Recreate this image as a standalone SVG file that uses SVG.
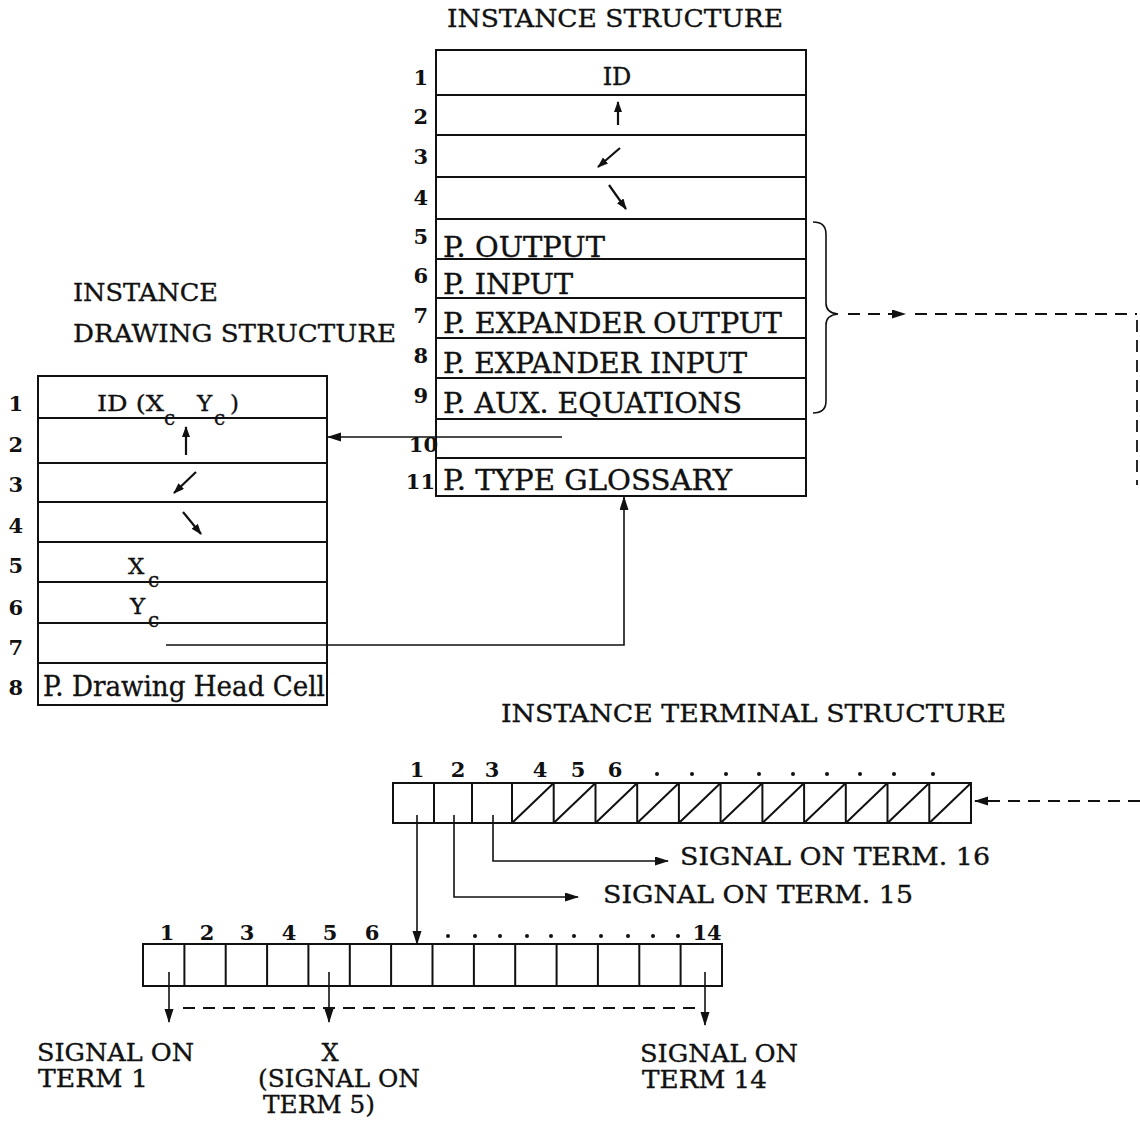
<svg xmlns="http://www.w3.org/2000/svg" width="1140" height="1122" viewBox="0 0 1140 1122">
<defs>
<style>
.t{font-family:"DejaVu Serif","Liberation Serif",serif;fill:#111;stroke:#111;stroke-width:0.35;}
.n{font-family:"DejaVu Serif","Liberation Serif",serif;font-weight:bold;font-size:21px;fill:#111;}
.box{fill:none;stroke:#111;stroke-width:2;}
.ln{stroke:#111;stroke-width:2;fill:none;}
.c{stroke:#111;stroke-width:1.6;fill:none;}
.s{stroke:#111;stroke-width:2.2;fill:none;}
.d{stroke:#111;stroke-width:1.8;fill:none;stroke-dasharray:12 8;}
</style>
<marker id="ah" markerUnits="userSpaceOnUse" markerWidth="14" markerHeight="10" refX="13" refY="4.5" orient="auto"><path d="M0,0 L14,4.5 L0,9 z" fill="#111"/></marker>
<marker id="as" markerUnits="userSpaceOnUse" markerWidth="11" markerHeight="9" refX="10" refY="4" orient="auto"><path d="M0,0 L11,4 L0,8 z" fill="#111"/></marker>
</defs>
<rect width="1140" height="1122" fill="#fff"/>

<g id="instance-structure">
<text class="t" x="447" y="27" font-size="25" textLength="336" lengthAdjust="spacingAndGlyphs">INSTANCE STRUCTURE</text>
<rect class="box" x="436" y="50" width="370" height="446"/>
<path class="ln" d="M436,95H806M436,135H806M436,177H806M436,219H806M436,259H806M436,298H806M436,338H806M436,378H806M436,419H806M436,458H806"/>
<g text-anchor="end">
<text class="n" x="428" y="85">1</text>
<text class="n" x="428" y="124">2</text>
<text class="n" x="428" y="164">3</text>
<text class="n" x="428" y="205">4</text>
<text class="n" x="428" y="244">5</text>
<text class="n" x="428" y="283">6</text>
<text class="n" x="428" y="323">7</text>
<text class="n" x="428" y="363">8</text>
<text class="n" x="428" y="403">9</text>
<text class="n" x="438" y="452">10</text>
<text class="n" x="435" y="489">11</text>
</g>
<text class="t" x="617" y="85" font-size="24" text-anchor="middle">ID</text>
<line class="s" x1="618" y1="125" x2="618" y2="102" marker-end="url(#as)"/>
<line class="s" x1="620" y1="148" x2="598" y2="167" marker-end="url(#as)"/>
<line class="s" x1="609" y1="185" x2="626" y2="209" marker-end="url(#as)"/>
<text class="t" x="443" y="257" font-size="27" textLength="162" lengthAdjust="spacingAndGlyphs">P. OUTPUT</text>
<text class="t" x="443" y="294" font-size="27" textLength="130" lengthAdjust="spacingAndGlyphs">P. INPUT</text>
<text class="t" x="443" y="333" font-size="27" textLength="339" lengthAdjust="spacingAndGlyphs">P. EXPANDER OUTPUT</text>
<text class="t" x="443" y="373" font-size="27" textLength="304" lengthAdjust="spacingAndGlyphs">P. EXPANDER INPUT</text>
<text class="t" x="443" y="413" font-size="27" textLength="299" lengthAdjust="spacingAndGlyphs">P. AUX. EQUATIONS</text>
<text class="t" x="443" y="490" font-size="27" textLength="289" lengthAdjust="spacingAndGlyphs">P. TYPE GLOSSARY</text>
<path class="c" d="M813,222 Q826,222 826,234 V303 Q826,313 838,314 Q826,315 826,325 V401 Q826,413 813,413"/>
</g>

<g id="drawing-structure">
<text class="t" x="73" y="301" font-size="25" textLength="145" lengthAdjust="spacingAndGlyphs">INSTANCE</text>
<text class="t" x="73" y="342" font-size="25" textLength="323" lengthAdjust="spacingAndGlyphs">DRAWING STRUCTURE</text>
<rect class="box" x="38" y="376" width="289" height="329"/>
<path class="ln" d="M38,418H327M38,463H327M38,502H327M38,542H327M38,582H327M38,623H327M38,663H327"/>
<g text-anchor="end">
<text class="n" x="23" y="411">1</text>
<text class="n" x="23" y="452">2</text>
<text class="n" x="23" y="492">3</text>
<text class="n" x="23" y="533">4</text>
<text class="n" x="23" y="573">5</text>
<text class="n" x="23" y="615">6</text>
<text class="n" x="23" y="655">7</text>
<text class="n" x="23" y="695">8</text>
</g>
<text class="t" x="97" y="411" font-size="23" textLength="67" lengthAdjust="spacingAndGlyphs">ID (X</text>
<text class="t" x="164" y="425" font-size="20">c</text>
<text class="t" x="197" y="411" font-size="23">Y</text>
<text class="t" x="214" y="425" font-size="20">c</text>
<text class="t" x="230" y="411" font-size="23">)</text>
<line class="s" x1="186" y1="455" x2="186" y2="427" marker-end="url(#as)"/>
<line class="s" x1="196" y1="472" x2="174" y2="493" marker-end="url(#as)"/>
<line class="s" x1="183" y1="512" x2="201" y2="534" marker-end="url(#as)"/>
<text class="t" x="128" y="574" font-size="23">X</text>
<text class="t" x="148" y="587" font-size="20">c</text>
<text class="t" x="130" y="614" font-size="23">Y</text>
<text class="t" x="148" y="627" font-size="20">c</text>
<text class="t" x="43" y="696" font-size="27" textLength="282" lengthAdjust="spacingAndGlyphs">P. Drawing Head Cell</text>
</g>

<g id="terminal-structure">
<text class="t" x="501" y="722" font-size="25" textLength="505" lengthAdjust="spacingAndGlyphs">INSTANCE TERMINAL STRUCTURE</text>
<rect class="box" x="393" y="783" width="578" height="40"/>
<path class="ln" d="M434,783V823M472,783V823M512,783V823M553.7,783V823M595.5,783V823M637.2,783V823M678.9,783V823M720.6,783V823M762.4,783V823M804.1,783V823M845.8,783V823M887.5,783V823M929.3,783V823"/>
<path class="ln" d="M512,823L553.7,783M553.7,823L595.5,783M595.5,823L637.2,783M637.2,823L678.9,783M678.9,823L720.6,783M720.6,823L762.4,783M762.4,823L804.1,783M804.1,823L845.8,783M845.8,823L887.5,783M887.5,823L929.3,783M929.3,823L971,783"/>
<g text-anchor="middle">
<text class="n" x="417" y="777">1</text>
<text class="n" x="458" y="777">2</text>
<text class="n" x="492" y="777">3</text>
<text class="n" x="540" y="777">4</text>
<text class="n" x="578" y="777">5</text>
<text class="n" x="615" y="777">6</text>
</g>
<g fill="#111">
<circle cx="657" cy="774" r="2"/><circle cx="692" cy="774" r="2"/><circle cx="726" cy="774" r="2"/><circle cx="759" cy="774" r="2"/><circle cx="793" cy="774" r="2"/><circle cx="827" cy="774" r="2"/><circle cx="860" cy="774" r="2"/><circle cx="894" cy="774" r="2"/><circle cx="933" cy="774" r="2"/>
</g>
<text class="t" x="680" y="865" font-size="24" textLength="310" lengthAdjust="spacingAndGlyphs">SIGNAL ON TERM. 16</text>
<text class="t" x="603" y="903" font-size="24" textLength="310" lengthAdjust="spacingAndGlyphs">SIGNAL ON TERM. 15</text>
</g>

<g id="terminal-array">
<rect class="box" x="143" y="944" width="579" height="42"/>
<path class="ln" d="M184.4,944V986M225.7,944V986M267.1,944V986M308.4,944V986M349.8,944V986M391.1,944V986M432.5,944V986M473.9,944V986M515.2,944V986M556.6,944V986M597.9,944V986M639.3,944V986M680.6,944V986"/>
<g text-anchor="middle">
<text class="n" x="167" y="940">1</text>
<text class="n" x="207" y="940">2</text>
<text class="n" x="247" y="940">3</text>
<text class="n" x="289" y="940">4</text>
<text class="n" x="330" y="940">5</text>
<text class="n" x="372" y="940">6</text>
<text class="n" x="707" y="940">14</text>
</g>
<g fill="#111">
<circle cx="448" cy="936" r="2"/><circle cx="475" cy="936" r="2"/><circle cx="500" cy="936" r="2"/><circle cx="527" cy="936" r="2"/><circle cx="551" cy="936" r="2"/><circle cx="574" cy="936" r="2"/><circle cx="601" cy="936" r="2"/><circle cx="628" cy="936" r="2"/><circle cx="653" cy="936" r="2"/><circle cx="678" cy="936" r="2"/>
</g>
<text class="t" x="37" y="1061" font-size="24" textLength="157" lengthAdjust="spacingAndGlyphs">SIGNAL ON</text>
<text class="t" x="38" y="1087" font-size="24" textLength="110" lengthAdjust="spacingAndGlyphs">TERM 1</text>
<text class="t" x="330" y="1061" font-size="24" text-anchor="middle">X</text>
<text class="t" x="258" y="1087" font-size="24" textLength="162" lengthAdjust="spacingAndGlyphs">(SIGNAL ON</text>
<text class="t" x="263" y="1113" font-size="24" textLength="112" lengthAdjust="spacingAndGlyphs">TERM 5)</text>
<text class="t" x="640" y="1062" font-size="24" textLength="158" lengthAdjust="spacingAndGlyphs">SIGNAL ON</text>
<text class="t" x="642" y="1088" font-size="24" textLength="125" lengthAdjust="spacingAndGlyphs">TERM 14</text>
</g>

<g id="connectors">
<line class="c" x1="562" y1="437" x2="328" y2="437" marker-end="url(#ah)"/>
<path class="c" d="M166,645H624V497" marker-end="url(#ah)"/>
<line class="d" x1="848" y1="314" x2="905" y2="314" marker-end="url(#ah)"/>
<line class="d" x1="915" y1="314" x2="1137" y2="314"/>
<line class="d" x1="1137" y1="320" x2="1137" y2="485"/>
<line class="d" x1="1140" y1="801" x2="975" y2="801" marker-end="url(#ah)"/>
<line class="c" x1="417" y1="815" x2="417" y2="944" marker-end="url(#ah)"/>
<path class="c" d="M454,815V897H578" marker-end="url(#ah)"/>
<path class="c" d="M493,815V861H668" marker-end="url(#ah)"/>
<line class="c" x1="169" y1="972" x2="169" y2="1022" marker-end="url(#ah)"/>
<line class="c" x1="329" y1="972" x2="329" y2="1022" marker-end="url(#ah)"/>
<line class="c" x1="705" y1="972" x2="705" y2="1025" marker-end="url(#ah)"/>
<line class="d" x1="183" y1="1008" x2="700" y2="1008" stroke-width="1.5"/>
</g>
</svg>
